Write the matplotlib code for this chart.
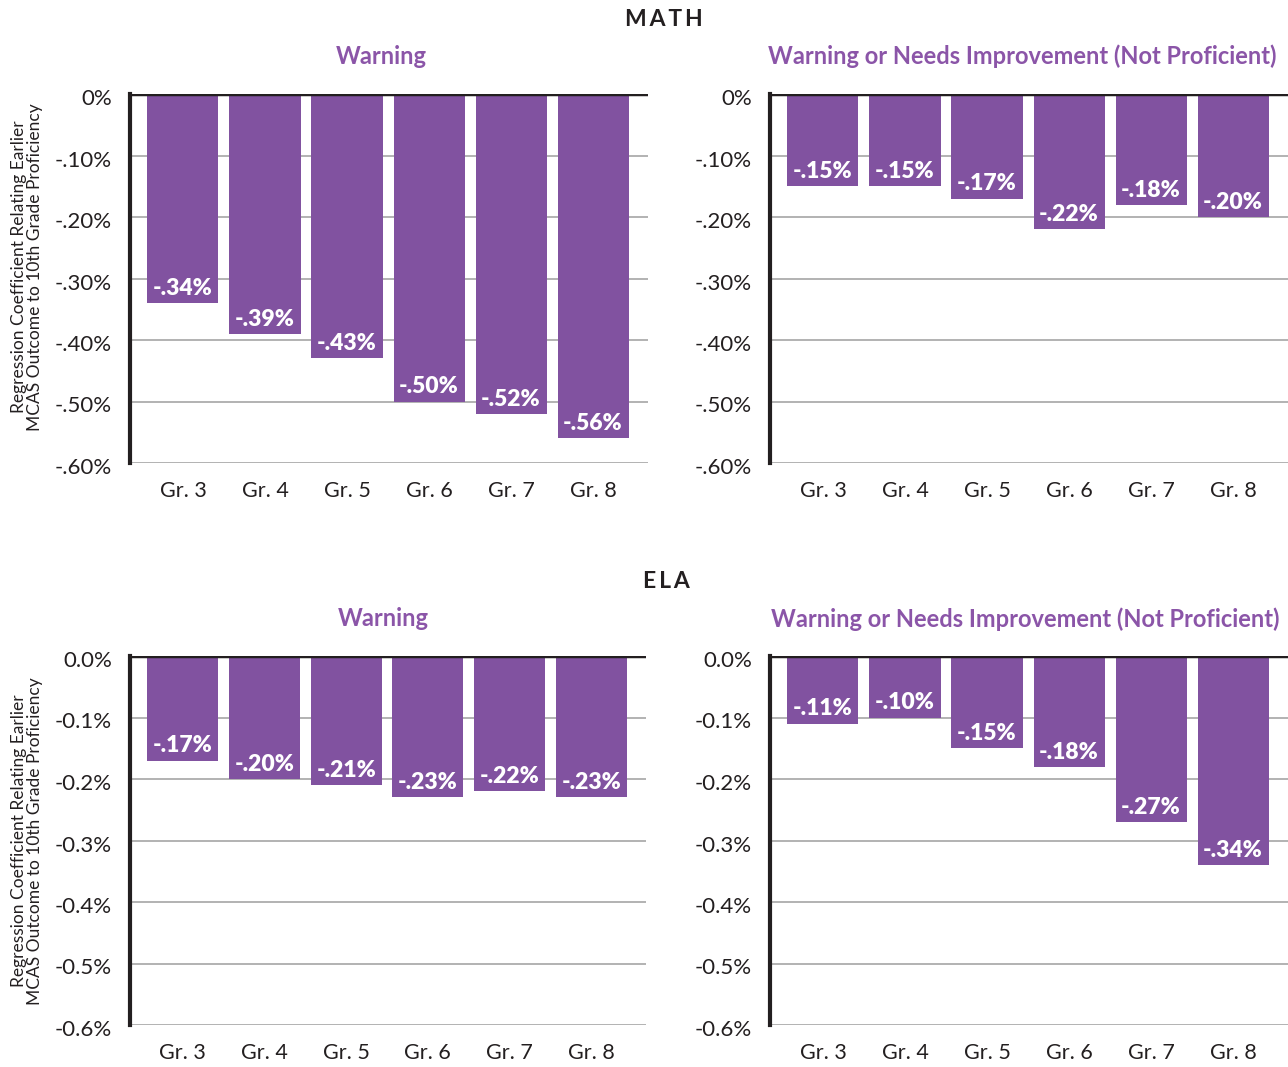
import matplotlib
matplotlib.use("Agg")
import matplotlib.pyplot as plt
import matplotlib.transforms as mtrans

plt.rcParams["font.family"] = ["Lato", "DejaVu Sans"]

grades = ["Gr. 3", "Gr. 4", "Gr. 5", "Gr. 6", "Gr. 7", "Gr. 8"]
math_warning = [-0.34, -0.39, -0.43, -0.50, -0.52, -0.56]
math_not_prof = [-0.15, -0.15, -0.17, -0.22, -0.18, -0.20]
ela_warning = [-0.17, -0.20, -0.21, -0.23, -0.22, -0.23]
ela_not_prof = [-0.11, -0.10, -0.15, -0.18, -0.27, -0.34]

yticks = [0, -0.1, -0.2, -0.3, -0.4, -0.5, -0.6]
math_ytick_labels = ["0%", "-.10%", "-.20%", "-.30%", "-.40%", "-.50%", "-.60%"]
ela_ytick_labels = ["0.0%", "-0.1%", "-0.2%", "-0.3%", "-0.4%", "-0.5%", "-0.6%"]

BAR = "#8152A0"
TITLE = "#8B55A8"
W, H = 1288, 1067


def px_axes(fig, x0, x1, ytop, ybot):
    return fig.add_axes([x0 / W, (H - ybot) / H, (x1 - x0) / W, (ybot - ytop) / H])


def panel(ax, values, ticklabels):
    x = list(range(len(values)))
    ax.set_xlim(-0.646, 5.67)
    ax.set_ylim(-0.6, 0)
    for t in yticks[1:]:
        ax.axhline(t, color="#a6a6a6", lw=1.2, zorder=1)
    ax.bar(x, values, width=0.866, color=BAR, zorder=2)
    ax.axhline(0, color="#231f20", lw=2.5, zorder=3)
    for xi, v in zip(x, values):
        ax.annotate(f"-{abs(v):.2f}%".replace("0.", "."), (xi, v),
                    xytext=(0, 3), textcoords="offset points",
                    ha="center", va="bottom", color="white",
                    fontsize=16.5, fontweight="heavy", zorder=4)
    for s in ["top", "right", "bottom"]:
        ax.spines[s].set_visible(False)
    ax.spines["left"].set_linewidth(3)
    ax.spines["left"].set_color("#231f20")
    ax.set_xticks(x)
    ax.set_xticklabels(grades, fontsize=15.5, color="#231f20")
    ax.set_yticks(yticks)
    ax.set_yticklabels(ticklabels, fontsize=16, color="#231f20")
    ax.tick_params(axis="both", length=0)
    ax.tick_params(axis="y", pad=13)
    ax.tick_params(axis="x", pad=13)
    # y tick labels sit a little below their grid lines in the original
    off = mtrans.ScaledTranslation(0, -0.03, ax.figure.dpi_scale_trans)
    for lab in ax.get_yticklabels():
        lab.set_transform(lab.get_transform() + off)


fig = plt.figure(figsize=(W / 100, H / 100), dpi=100)

ax1 = px_axes(fig, 130, 648, 94, 463)
ax2 = px_axes(fig, 770, 1288, 94, 463)
ax3 = px_axes(fig, 130, 646, 656, 1025)
ax4 = px_axes(fig, 770, 1288, 656, 1025)

panel(ax1, math_warning, math_ytick_labels)
panel(ax2, math_not_prof, math_ytick_labels)
panel(ax3, ela_warning, ela_ytick_labels)
panel(ax4, ela_not_prof, ela_ytick_labels)

fig.text(664 / W, 1 - 19 / H, "M\u2009A\u2009T\u2009H", ha="center", va="center",
         fontsize=16.5, fontweight="bold", color="#231f20")
fig.text(666 / W, 1 - 581 / H, "E\u2009L\u2009A", ha="center", va="center",
         fontsize=16.5, fontweight="bold", color="#231f20")
fig.text(381 / W, 1 - 56 / H, "Warning", ha="center", va="center",
         fontsize=17, fontweight="bold", color=TITLE)
fig.text(1022 / W, 1 - 56 / H, "Warning or Needs Improvement (Not Proficient)",
         ha="center", va="center", fontsize=17, fontweight="bold", color=TITLE)
fig.text(383 / W, 1 - 619 / H, "Warning", ha="center", va="center",
         fontsize=17, fontweight="bold", color=TITLE)
fig.text(1025 / W, 1 - 619 / H, "Warning or Needs Improvement (Not Proficient)",
         ha="center", va="center", fontsize=17, fontweight="bold", color=TITLE)

ylab = "Regression Coefficient Relating Earlier\nMCAS Outcome to 10th Grade Proficiency"
fig.text(27 / W, 1 - 267 / H, ylab, rotation=90, ha="center", va="center",
         fontsize=12.5, color="#231f20", linespacing=1.05)
fig.text(27 / W, 1 - 841 / H, ylab, rotation=90, ha="center", va="center",
         fontsize=12.5, color="#231f20", linespacing=1.05)

fig.savefig("out.png", dpi=100)
